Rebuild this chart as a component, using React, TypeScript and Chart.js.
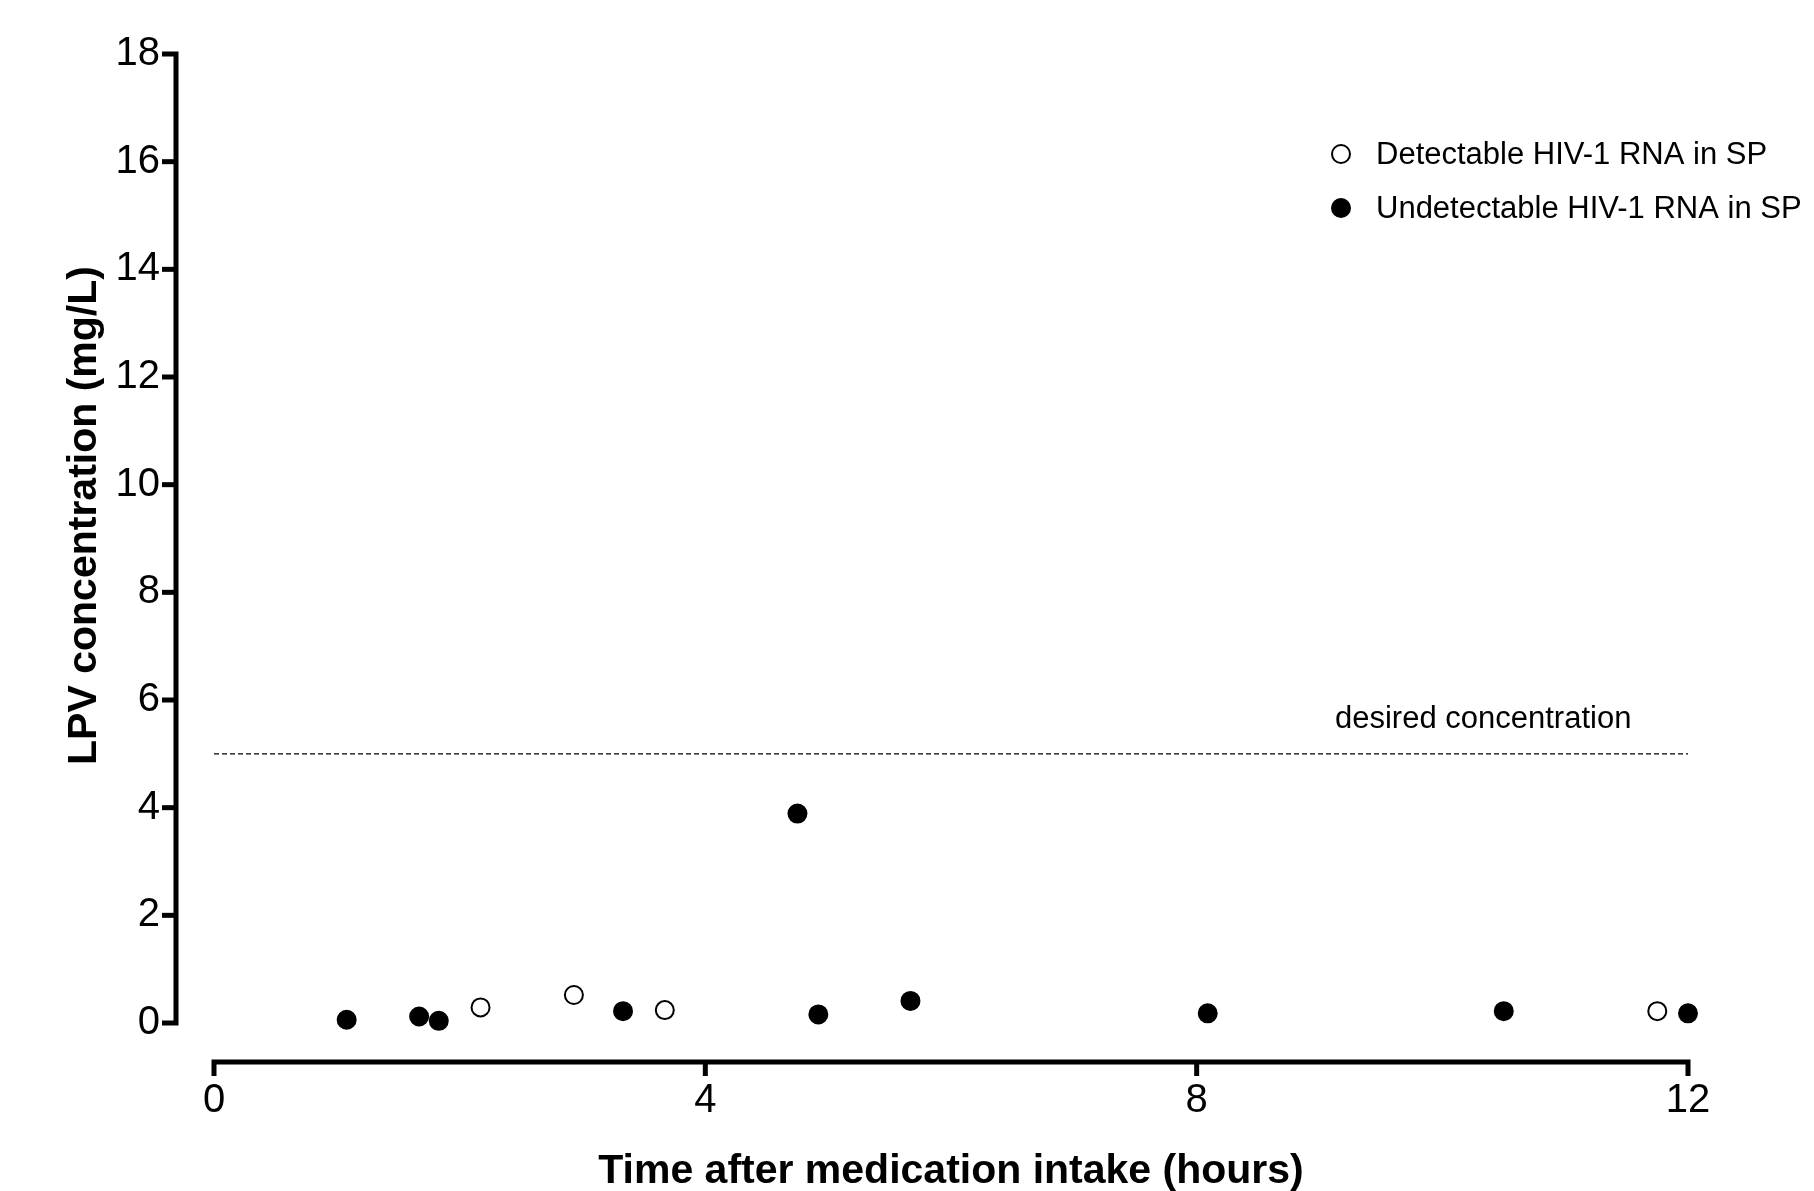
import React, { useEffect, useRef } from "react";
import { Chart, registerables } from "chart.js";

Chart.register(...registerables);

const FONT = '"Liberation Sans", Arial, Helvetica, sans-serif';

// ---- data ----
const seriesLabels = ["Detectable HIV-1 RNA in SP", "Undetectable HIV-1 RNA in SP"];
const detectableTime = [2.17, 2.93, 3.67, 11.75];
const detectableConc = [0.29, 0.52, 0.24, 0.22];
const undetectableTime = [1.08, 1.67, 1.83, 3.33, 4.75, 4.92, 5.67, 8.09, 10.5, 12.0];
const undetectableConc = [0.06, 0.12, 0.04, 0.22, 3.89, 0.16, 0.41, 0.18, 0.22, 0.18];
const desiredConcentration = 5;
const desiredLineTime = [0, 12];
const desiredLabel = "desired concentration";
const xAxisTitle = "Time after medication intake (hours)";
const yAxisTitle = "LPV concentration (mg/L)";
const xMin = 0, xMax = 12, xStep = 4;
const yMin = 0, yMax = 18, yStep = 2;

const toPoints = (xs: number[], ys: number[]) => xs.map((x, i) => ({ x, y: ys[i] }));

const prismAxes = {
  id: "prismAxes",
  afterDraw(chart: any) {
    const { ctx, chartArea, scales } = chart;
    const xs = scales.x;
    const ys = scales.y;
    ctx.save();
    ctx.strokeStyle = "#000";
    ctx.lineWidth = 5;
    ctx.lineJoin = "miter";
    ctx.lineCap = "butt";
    const tickLen = 14;
    // y axis (offset to the left)
    const ax = chartArea.left - 38;
    const yTop = ys.getPixelForValue(ys.max);
    const yBot = ys.getPixelForValue(ys.min);
    ctx.beginPath();
    ctx.moveTo(ax - tickLen, yTop);
    ctx.lineTo(ax, yTop);
    ctx.lineTo(ax, yBot);
    ctx.lineTo(ax - tickLen, yBot);
    ctx.stroke();
    ys.ticks.forEach((t: any) => {
      if (t.value === ys.min || t.value === ys.max) return;
      const p = ys.getPixelForValue(t.value);
      ctx.beginPath();
      ctx.moveTo(ax - tickLen, p);
      ctx.lineTo(ax, p);
      ctx.stroke();
    });
    // x axis (offset downward)
    const ay = chartArea.bottom + 39;
    const xL = xs.getPixelForValue(xs.min);
    const xR = xs.getPixelForValue(xs.max);
    ctx.beginPath();
    ctx.moveTo(xL, ay + tickLen);
    ctx.lineTo(xL, ay);
    ctx.lineTo(xR, ay);
    ctx.lineTo(xR, ay + tickLen);
    ctx.stroke();
    xs.ticks.forEach((t: any) => {
      if (t.value === xs.min || t.value === xs.max) return;
      const p = xs.getPixelForValue(t.value);
      ctx.beginPath();
      ctx.moveTo(p, ay);
      ctx.lineTo(p, ay + tickLen);
      ctx.stroke();
    });

    // y axis title
    ctx.fillStyle = "#000";
    ctx.font = `bold 41px ${FONT}`;
    ctx.textAlign = "center";
    ctx.textBaseline = "middle";
    ctx.save();
    ctx.translate(85, (chartArea.top + chartArea.bottom) / 2 - 23);
    ctx.rotate(-Math.PI / 2);
    ctx.fillText(yAxisTitle, 0, 0);
    ctx.restore();

    // reference line label
    ctx.font = `31px ${FONT}`;
    ctx.textAlign = "left";
    ctx.textBaseline = "alphabetic";
    ctx.fillText(desiredLabel, xR - 353, ys.getPixelForValue(desiredConcentration) - 26);

    // legend
    const legendX = 1341;
    const legendY = [154, 208];
    [0, 1].forEach((i) => {
      const ds = chart.data.datasets[i];
      ctx.beginPath();
      ctx.arc(legendX, legendY[i], 9, 0, Math.PI * 2);
      ctx.fillStyle = ds.pointBackgroundColor;
      ctx.fill();
      ctx.lineWidth = 2;
      ctx.strokeStyle = ds.pointBorderColor;
      ctx.stroke();
      ctx.fillStyle = "#000";
      ctx.font = `31px ${FONT}`;
      ctx.textAlign = "left";
      ctx.textBaseline = "alphabetic";
      ctx.fillText(ds.label, 1376, legendY[i] + 10);
    });
    ctx.restore();
  },
};

export default function App() {
  const canvasRef = useRef<HTMLCanvasElement | null>(null);

  useEffect(() => {
    const canvas = canvasRef.current;
    if (!canvas) return;
    const chart = new Chart(canvas, {
      type: "scatter",
      data: {
        datasets: [
          {
            label: seriesLabels[0],
            data: toPoints(detectableTime, detectableConc),
            pointRadius: 9,
            pointBorderWidth: 2,
            pointBackgroundColor: "#ffffff",
            pointBorderColor: "#000000",
            showLine: false,
            clip: false,
          } as any,
          {
            label: seriesLabels[1],
            data: toPoints(undetectableTime, undetectableConc),
            pointRadius: 9,
            pointBorderWidth: 2,
            pointBackgroundColor: "#000000",
            pointBorderColor: "#000000",
            showLine: false,
            clip: false,
          } as any,
          {
            label: desiredLabel,
            data: desiredLineTime.map((x) => ({ x, y: desiredConcentration })),
            showLine: true,
            borderColor: "#000000",
            borderWidth: 1.2,
            borderDash: [5, 3],
            pointRadius: 0,
            fill: false,
            clip: false,
          } as any,
        ],
      },
      options: {
        responsive: false,
        devicePixelRatio: 1,
        animation: false,
        events: [],
        layout: { padding: { left: 0, right: 126, top: 54, bottom: 0 } },
        plugins: {
          legend: { display: false },
          tooltip: { enabled: false },
          title: { display: false },
        },
        scales: {
          x: {
            type: "linear",
            position: "bottom",
            min: xMin,
            max: xMax,
            grid: { display: false, drawTicks: true, tickLength: 54 },
            border: { display: false },
            ticks: {
              stepSize: xStep,
              padding: 0,
              color: "#000",
              font: { family: FONT, size: 40 },
              maxRotation: 0,
            },
            title: {
              display: true,
              text: xAxisTitle,
              color: "#000",
              font: { family: FONT, size: 41, weight: "bold" },
              padding: { top: 0, bottom: -5 },
            },
            afterFit: (s: any) => {
              s.height = 168;
            },
          },
          y: {
            type: "linear",
            position: "left",
            min: yMin,
            max: yMax,
            grid: { display: false, drawTicks: true, tickLength: 54 },
            border: { display: false },
            ticks: {
              stepSize: yStep,
              padding: 0,
              color: "#000",
              font: { family: FONT, size: 40 },
            },
            afterFit: (s: any) => {
              s.width = 214;
            },
          },
        },
      } as any,
      plugins: [prismAxes],
    });
    return () => chart.destroy();
  }, []);

  return (
    <div style={{ position: "absolute", left: 0, top: 0, width: 1814, height: 1191, background: "#fff" }}>
      <canvas ref={canvasRef} width={1814} height={1191} style={{ display: "block" }} />
    </div>
  );
}
